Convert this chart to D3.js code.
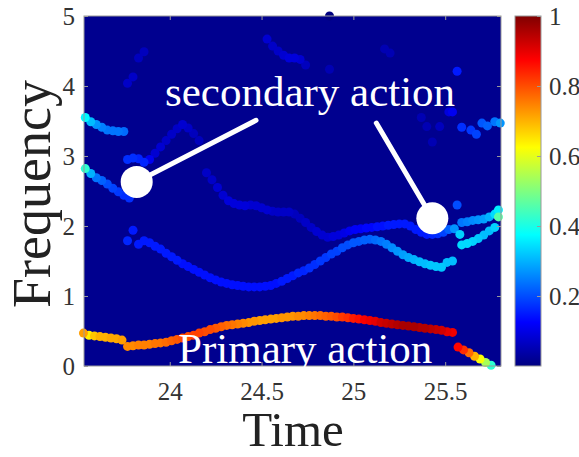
<!DOCTYPE html>
<html>
<head>
<meta charset="utf-8">
<script src="https://cdn.jsdelivr.net/npm/d3@7"></script>
<style>
    body { margin: 0; background: #fff; }
    svg { display: block; }
</style>
</head>
<body>
<svg id="chart" width="579" height="457"></svg>
<script>
// Each point is [time, frequency, normalised amplitude].
const primaryTrack = [
    [23.53, 0.47, 0.72], [23.56, 0.44, 0.64], [23.59, 0.43, 0.68], [23.62, 0.42, 0.70],
    [23.65, 0.41, 0.70], [23.68, 0.40, 0.71], [23.71, 0.39, 0.71], [23.74, 0.37, 0.72],
    [23.77, 0.28, 0.74], [23.80, 0.29, 0.74], [23.83, 0.30, 0.75], [23.86, 0.30, 0.75],
    [23.89, 0.31, 0.75], [23.92, 0.32, 0.76], [23.95, 0.33, 0.76], [23.98, 0.34, 0.77],
    [24.01, 0.36, 0.78], [24.04, 0.38, 0.79], [24.07, 0.40, 0.80], [24.10, 0.42, 0.80],
    [24.13, 0.44, 0.81], [24.16, 0.47, 0.81], [24.19, 0.49, 0.80], [24.22, 0.52, 0.80],
    [24.25, 0.54, 0.79], [24.28, 0.56, 0.78], [24.31, 0.58, 0.77], [24.34, 0.59, 0.76],
    [24.37, 0.60, 0.75], [24.40, 0.61, 0.74], [24.43, 0.62, 0.73], [24.46, 0.64, 0.73],
    [24.49, 0.65, 0.72], [24.52, 0.66, 0.72], [24.55, 0.67, 0.72], [24.58, 0.68, 0.72],
    [24.61, 0.69, 0.73], [24.64, 0.70, 0.73], [24.67, 0.71, 0.73], [24.70, 0.71, 0.74],
    [24.73, 0.72, 0.74], [24.76, 0.72, 0.75], [24.79, 0.72, 0.76], [24.82, 0.72, 0.77],
    [24.85, 0.71, 0.78], [24.88, 0.71, 0.79], [24.91, 0.70, 0.80], [24.94, 0.70, 0.82],
    [24.97, 0.69, 0.83], [25.00, 0.68, 0.85], [25.03, 0.67, 0.86], [25.06, 0.66, 0.88],
    [25.09, 0.65, 0.89], [25.12, 0.64, 0.90], [25.15, 0.62, 0.92], [25.18, 0.61, 0.93],
    [25.21, 0.60, 0.94], [25.24, 0.59, 0.95], [25.27, 0.58, 0.96], [25.30, 0.57, 0.96],
    [25.33, 0.56, 0.96], [25.36, 0.55, 0.95], [25.39, 0.54, 0.95], [25.42, 0.53, 0.94],
    [25.45, 0.52, 0.93], [25.48, 0.51, 0.92], [25.51, 0.49, 0.90], [25.54, 0.48, 0.89]
];

const primaryTail = [
    [25.57, 0.27, 0.87], [25.60, 0.23, 0.83], [25.63, 0.19, 0.77], [25.66, 0.14, 0.70],
    [25.69, 0.10, 0.62], [25.72, 0.05, 0.54], [25.75, 0.01, 0.42]
];

const lowerSecondary = [
    [23.77, 1.79, 0.16], [23.80, 1.94, 0.15], [23.83, 1.74, 0.15], [23.86, 1.79, 0.15],
    [23.89, 1.76, 0.15], [23.92, 1.71, 0.15], [23.95, 1.67, 0.15], [23.98, 1.61, 0.15],
    [24.01, 1.56, 0.15], [24.04, 1.51, 0.15], [24.07, 1.46, 0.14], [24.10, 1.42, 0.14],
    [24.13, 1.38, 0.14], [24.16, 1.34, 0.14], [24.19, 1.30, 0.14], [24.22, 1.26, 0.14],
    [24.25, 1.23, 0.14], [24.28, 1.20, 0.14], [24.31, 1.18, 0.14], [24.34, 1.16, 0.14],
    [24.37, 1.15, 0.14], [24.40, 1.14, 0.14], [24.43, 1.13, 0.14], [24.46, 1.13, 0.14],
    [24.49, 1.13, 0.14], [24.52, 1.14, 0.14], [24.55, 1.15, 0.14], [24.58, 1.18, 0.14],
    [24.61, 1.21, 0.15], [24.64, 1.25, 0.15], [24.67, 1.29, 0.15], [24.70, 1.33, 0.16],
    [24.73, 1.36, 0.16], [24.76, 1.40, 0.17], [24.79, 1.45, 0.17], [24.82, 1.50, 0.18],
    [24.85, 1.55, 0.18], [24.88, 1.60, 0.19], [24.91, 1.64, 0.19], [24.94, 1.69, 0.20],
    [24.97, 1.73, 0.20], [25.00, 1.76, 0.21], [25.03, 1.78, 0.21], [25.06, 1.80, 0.22],
    [25.09, 1.81, 0.22], [25.12, 1.80, 0.23], [25.15, 1.78, 0.24], [25.18, 1.74, 0.25],
    [25.21, 1.69, 0.26], [25.24, 1.64, 0.27], [25.27, 1.59, 0.28], [25.30, 1.55, 0.29],
    [25.33, 1.52, 0.30], [25.36, 1.49, 0.31], [25.39, 1.46, 0.31], [25.42, 1.44, 0.32],
    [25.45, 1.42, 0.32], [25.48, 1.41, 0.32], [25.51, 1.48, 0.31], [25.54, 1.50, 0.31]
];

const upperSecondary = [
    [24.20, 2.76, 0.07], [24.23, 2.66, 0.07], [24.26, 2.55, 0.08], [24.29, 2.44, 0.08],
    [24.32, 2.36, 0.09], [24.35, 2.32, 0.09], [24.38, 2.30, 0.09], [24.41, 2.29, 0.09],
    [24.44, 2.30, 0.08], [24.47, 2.29, 0.08], [24.50, 2.26, 0.08], [24.53, 2.23, 0.08],
    [24.56, 2.21, 0.07], [24.59, 2.20, 0.07], [24.62, 2.20, 0.07], [24.65, 2.20, 0.07],
    [24.68, 2.17, 0.06], [24.71, 2.11, 0.06], [24.74, 2.05, 0.07], [24.77, 1.98, 0.07],
    [24.80, 1.92, 0.08], [24.83, 1.87, 0.08], [24.86, 1.84, 0.08], [24.89, 1.85, 0.09],
    [24.92, 1.87, 0.09], [24.95, 1.90, 0.10], [24.98, 1.93, 0.11], [25.01, 1.95, 0.12],
    [25.04, 1.96, 0.12], [25.07, 1.97, 0.13], [25.10, 1.98, 0.13], [25.13, 1.99, 0.14],
    [25.16, 2.00, 0.14], [25.19, 2.01, 0.15], [25.22, 2.02, 0.15], [25.25, 2.03, 0.15],
    [25.28, 2.03, 0.15], [25.31, 2.00, 0.15], [25.34, 1.95, 0.15], [25.37, 1.91, 0.15],
    [25.40, 1.88, 0.15], [25.43, 1.88, 0.16], [25.46, 1.89, 0.17], [25.49, 1.91, 0.19],
    [25.52, 1.95, 0.22], [25.55, 1.96, 0.27], [25.58, 1.88, 0.33]
];

const rightUpper = [
    [25.59, 2.05, 0.24], [25.62, 2.06, 0.25], [25.65, 2.08, 0.26], [25.68, 2.09, 0.27],
    [25.71, 2.10, 0.28], [25.74, 2.13, 0.30], [25.77, 2.17, 0.34], [25.79, 2.23, 0.36],
    [25.79, 2.13, 0.46], [25.565, 2.30, 0.20]
];

const rightLower = [
    [25.59, 1.73, 0.34], [25.62, 1.75, 0.34], [25.65, 1.78, 0.33], [25.68, 1.82, 0.32],
    [25.71, 1.87, 0.31], [25.74, 1.93, 0.31], [25.77, 1.98, 0.33]
];

const leftMid = [
    [23.54, 2.82, 0.42], [23.57, 2.75, 0.30], [23.60, 2.69, 0.24], [23.63, 2.65, 0.22],
    [23.66, 2.60, 0.20], [23.69, 2.54, 0.19], [23.72, 2.49, 0.18], [23.75, 2.44, 0.17],
    [23.78, 2.40, 0.17]
];

const leftHigh = [
    [23.54, 3.55, 0.37], [23.57, 3.49, 0.31], [23.60, 3.45, 0.27], [23.63, 3.41, 0.25],
    [23.66, 3.37, 0.24], [23.69, 3.36, 0.24], [23.72, 3.35, 0.24], [23.75, 3.35, 0.23]
];

const archTrack = [
    [23.77, 2.95, 0.17], [23.80, 2.97, 0.17], [23.83, 2.96, 0.16], [23.86, 2.91, 0.16],
    [23.89, 2.95, 0.11], [23.92, 3.04, 0.08], [23.95, 3.13, 0.08], [23.98, 3.22, 0.07],
    [24.01, 3.31, 0.07], [24.04, 3.39, 0.07], [24.07, 3.45, 0.08], [24.10, 3.40, 0.07],
    [24.13, 3.32, 0.06], [24.16, 3.22, 0.06]
];

const faintPoints = [
    [23.77, 4.04, 0.07], [23.80, 4.13, 0.07], [23.83, 4.40, 0.06], [23.86, 4.49, 0.06],
    [24.53, 4.67, 0.08], [24.56, 4.57, 0.07], [24.59, 4.50, 0.07], [24.62, 4.44, 0.08],
    [24.65, 4.40, 0.09], [24.68, 4.40, 0.09], [24.71, 4.38, 0.08], [24.74, 4.30, 0.06],
    [24.87, 4.24, 0.05], [25.17, 4.53, 0.05], [25.20, 4.47, 0.05], [24.87, 5.00, 0.00],
    [25.565, 4.21, 0.15], [25.37, 3.55, 0.05], [25.40, 3.42, 0.05], [25.47, 3.42, 0.06],
    [25.52, 3.63, 0.09], [25.54, 3.63, 0.11], [25.43, 3.20, 0.05]
];

const rightHigh = [
    [25.59, 3.41, 0.17], [25.64, 3.37, 0.18], [25.67, 3.31, 0.19], [25.70, 3.47, 0.21],
    [25.73, 3.43, 0.22], [25.77, 3.49, 0.24], [25.80, 3.47, 0.27]
];

const xTicks = [24, 24.5, 25, 25.5];
const yTicks = [0, 1, 2, 3, 4, 5];
const colourTicks = [0.2, 0.4, 0.6, 0.8, 1];

const serif = "'Liberation Serif', 'Times New Roman', serif";
const plain = d3.format("");

const svg = d3.select("#chart");

const plot = { left: 84, top: 16, right: 501, bottom: 366 };
const x = d3.scaleLinear().domain([23.533, 25.804]).range([plot.left, plot.right]);
const y = d3.scaleLinear().domain([0, 5]).range([plot.bottom, plot.top]);

// MATLAB style jet colour map
const jet = d3.scaleLinear()
              .domain([0, 0.125, 0.375, 0.625, 0.875, 1])
              .range(["#000080", "#0000ff", "#00ffff", "#ffff00", "#ff0000", "#800000"])
              .clamp(true);

svg.append("rect")
   .attr("x", plot.left)
   .attr("y", plot.top)
   .attr("width", plot.right - plot.left)
   .attr("height", plot.bottom - plot.top)
   .style("fill", "#00008f");

const points = [].concat(faintPoints, archTrack, upperSecondary, leftHigh, leftMid,
                         lowerSecondary, rightHigh, rightUpper, rightLower,
                         primaryTrack, primaryTail)
                 .sort((a, b) => a[2] - b[2]);

svg.append("g")
   .attr("class", "points")
   .selectAll("circle")
   .data(points)
   .enter()
   .append("circle")
   .attr("cx", d => x(d[0]))
   .attr("cy", d => y(d[1]))
   .attr("r", 4.5)
   .style("fill", d => jet(d[2]));

// axes, ticks point inwards like MATLAB
const tickColour = "#9a9a9a";
const labelColour = "#333";

function styleAxis(g) {
    g.select(".domain").remove();
    g.selectAll(".tick line").style("stroke", tickColour);
    g.selectAll(".tick text")
     .style("font-family", serif)
     .style("font-size", "25px")
     .style("fill", labelColour);
}

svg.append("g")
   .attr("transform", "translate(0," + plot.bottom + ")")
   .call(d3.axisBottom(x).tickValues(xTicks).tickSize(-4).tickPadding(16).tickFormat(plain))
   .call(styleAxis);

svg.append("g")
   .attr("transform", "translate(0," + plot.top + ")")
   .call(d3.axisTop(x).tickValues(xTicks).tickSize(-4).tickFormat(""))
   .call(styleAxis);

svg.append("g")
   .attr("transform", "translate(" + plot.left + ",0)")
   .call(d3.axisLeft(y).tickValues(yTicks).tickSize(-4).tickPadding(9).tickFormat(plain))
   .call(styleAxis);

svg.append("g")
   .attr("transform", "translate(" + plot.right + ",0)")
   .call(d3.axisRight(y).tickValues(yTicks).tickSize(-4).tickFormat(""))
   .call(styleAxis);

svg.append("rect")
   .attr("x", plot.left)
   .attr("y", plot.top)
   .attr("width", plot.right - plot.left)
   .attr("height", plot.bottom - plot.top)
   .style("fill", "none")
   .style("stroke", tickColour)
   .style("stroke-width", 1);

// annotations
const note = svg.append("g").attr("class", "annotations");

note.append("line")
    .attr("x1", x(23.82)).attr("y1", y(2.63))
    .attr("x2", x(24.47)).attr("y2", y(3.51))
    .style("stroke", "#fff")
    .style("stroke-width", 5)
    .style("stroke-linecap", "round");

note.append("circle")
    .attr("cx", x(23.82)).attr("cy", y(2.63))
    .attr("r", 16)
    .style("fill", "#fff");

note.append("line")
    .attr("x1", x(25.43)).attr("y1", y(2.11))
    .attr("x2", x(25.125)).attr("y2", y(3.47))
    .style("stroke", "#fff")
    .style("stroke-width", 5)
    .style("stroke-linecap", "round");

note.append("circle")
    .attr("cx", x(25.43)).attr("cy", y(2.11))
    .attr("r", 16)
    .style("fill", "#fff");

note.append("text")
    .attr("x", 165)
    .attr("y", 106)
    .text("secondary action")
    .style("font-family", serif)
    .style("font-size", "43px")
    .style("fill", "#fff");

note.append("text")
    .attr("x", 178)
    .attr("y", 363)
    .text("Primary action")
    .style("font-family", serif)
    .style("font-size", "43px")
    .style("fill", "#fff");

// axis titles
svg.append("text")
   .attr("x", 293)
   .attr("y", 446)
   .attr("text-anchor", "middle")
   .text("Time")
   .style("font-family", serif)
   .style("font-size", "49px")
   .style("fill", "#222");

svg.append("text")
   .attr("transform", "translate(50,194) rotate(-90)")
   .attr("text-anchor", "middle")
   .text("Frequency")
   .style("font-family", serif)
   .style("font-size", "54px")
   .style("fill", "#222");

// colour bar
const bar = { left: 515, right: 541 };
const c = d3.scaleLinear().domain([0, 1]).range([plot.bottom, plot.top]);

const gradient = svg.append("defs")
                    .append("linearGradient")
                    .attr("id", "jet")
                    .attr("x1", 0).attr("y1", 1)
                    .attr("x2", 0).attr("y2", 0);

gradient.selectAll("stop")
        .data(jet.domain())
        .enter()
        .append("stop")
        .attr("offset", d => d)
        .attr("stop-color", d => jet(d));

svg.append("rect")
   .attr("x", bar.left)
   .attr("y", plot.top)
   .attr("width", bar.right - bar.left)
   .attr("height", plot.bottom - plot.top)
   .style("fill", "url(#jet)")
   .style("stroke", tickColour)
   .style("stroke-width", 1);

svg.append("g")
   .attr("transform", "translate(" + bar.right + ",0)")
   .call(d3.axisRight(c).tickValues(colourTicks).tickSize(-4).tickPadding(8).tickFormat(plain))
   .call(styleAxis);
</script>
</body>
</html>
